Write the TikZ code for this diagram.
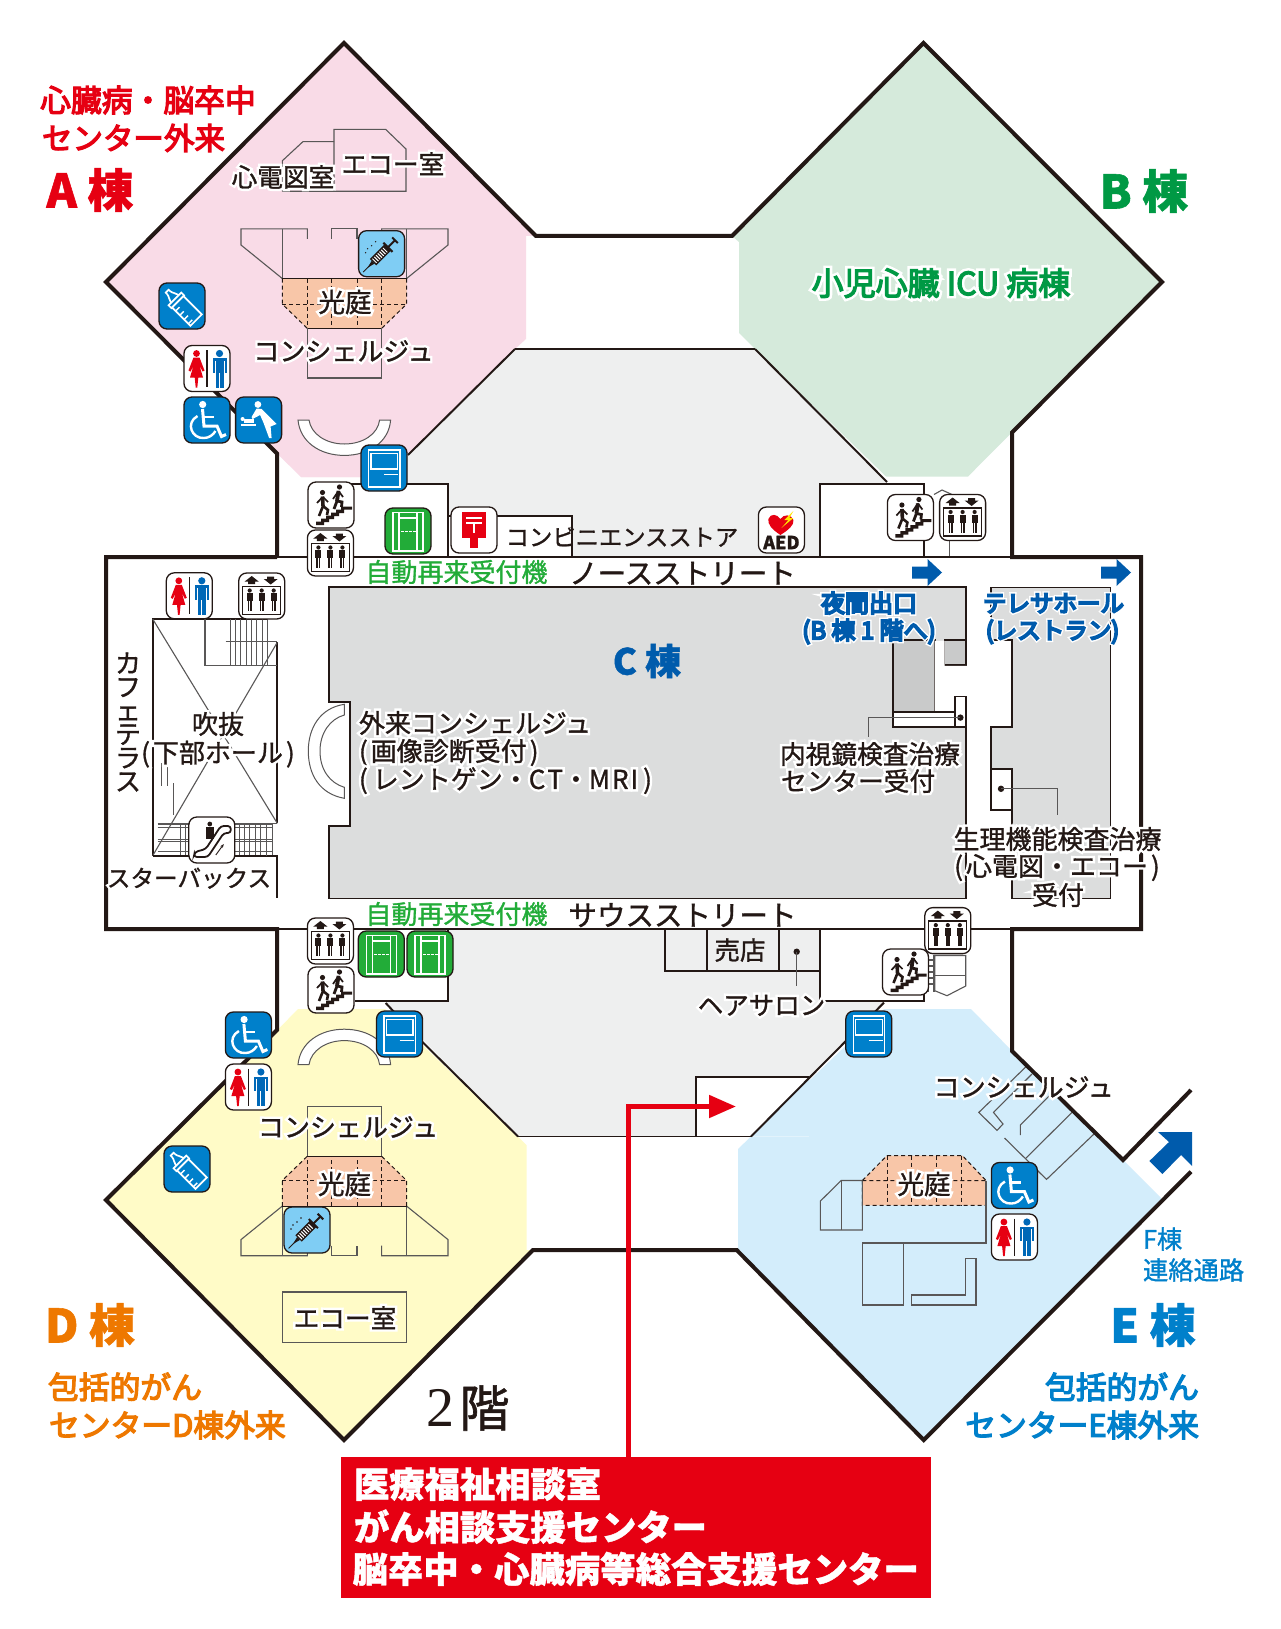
\documentclass[tikz,border=0pt]{standalone}
\usepackage{fontspec}
\usetikzlibrary{arrows.meta}
\setmainfont[FakeBold=1.2]{Noto Sans CJK JP}
\newfontfamily\halofont[FakeBold=20]{Noto Sans CJK JP}
\newfontfamily\medfont[FakeBold=4]{Noto Sans CJK JP}
\newfontfamily\strongfont[FakeBold=8]{Noto Sans CJK JP}
\newfontfamily\serifdigit{Liberation Serif}
\definecolor{ink}{HTML}{231815}
\definecolor{thinc}{HTML}{595757}
\definecolor{wpink}{HTML}{F9DBE7}
\definecolor{wgreen}{HTML}{D5EADB}
\definecolor{wyellow}{HTML}{FFFBC7}
\definecolor{wblue}{HTML}{D3EDFB}
\definecolor{lgray}{HTML}{EEEFEF}
\definecolor{cgray}{HTML}{DCDDDD}
\definecolor{dgray}{HTML}{C9CACA}
\definecolor{peach}{HTML}{F8C6A8}
\definecolor{cred}{HTML}{E60012}
\definecolor{cgreen}{HTML}{009944}
\definecolor{mgreen}{HTML}{22AC38}
\definecolor{corange}{HTML}{EE7800}
\definecolor{cblue}{HTML}{0080CB}
\definecolor{dblue}{HTML}{005BAC}
\definecolor{sky}{HTML}{7FCDF4}
\definecolor{mblue}{HTML}{0068B7}
\tikzset{
  thk/.style={draw=ink,line width=4pt,line join=miter},
  med/.style={draw=ink,line width=2pt},
  fin/.style={draw=thinc,line width=1.1pt},
  dsh/.style={draw=ink,line width=1pt,dashed,dash pattern=on 4pt off 3pt},
  lbl/.style={inner sep=0pt,outer sep=0pt},
  icon/.style={rounded corners=8pt,line width=1.3pt,draw=ink},
  wh/.style={draw=white,line width=1.3pt},
}
\newcommand\hlo[1]{\leavevmode\rlap{\color{white}\halofont #1}#1}
\newcommand\lbl[6][center]{\node[lbl,anchor=#1,text=#5] (#2) at (#3) {\fontsize{#4}{#4}\selectfont\rule[-0.12em]{0pt}{1em}#6};}
\newcommand\elvp[1]{\fill[ink] (#1,-5.5) circle[radius=2.1];\fill[ink] (#1-3,-2.8) rectangle (#1+3,5);\fill[ink] (#1-2,5) rectangle (#1-.3,15);\fill[ink] (#1+.3,5) rectangle (#1+2,15);}
\newcommand\icoToilet[1]{\begin{scope}[shift={#1}]
  \path[icon,fill=white] (-23,-23) rectangle (23,23);
  \fill[cred] (-10.5,-15) circle[radius=3.4];
  \fill[cred] (-13.5,-11) -- (-7.5,-11) -- (-2.5,2) -- (-4.5,3) -- (-7.5,-3) -- (-4,9) -- (-8.7,9) -- (-9.7,19) -- (-11.3,19) -- (-12.3,9) -- (-17,9) -- (-13.5,-3) -- (-16.5,3) -- (-18.5,2) -- cycle;
  \draw[ink,line width=1.4pt] (0,-18.5) -- (0,18.5);
  \fill[mblue] (12.5,-15) circle[radius=3.6];
  \fill[mblue] (5.5,-10.5) rectangle (19.5,-8);
  \fill[mblue] (5.5,-8) rectangle (7.5,4);
  \fill[mblue] (17.5,-8) rectangle (19.5,4);
  \fill[mblue] (8.5,-8) rectangle (16.5,4);
  \fill[mblue] (8.5,4) rectangle (12,19);
  \fill[mblue] (13,4) rectangle (16.5,19);
\end{scope}}
\newcommand\icoWheel[1]{\begin{scope}[shift={#1}]
  \path[icon,fill=cblue] (-23,-23) rectangle (23,23);
  \fill[white] (-4.3,-15.5) circle[radius=3.6];
  \draw[white,line width=3pt] (-4.5,-11) -- (-3,6) -- (10,6) -- (14.5,16.5) -- (19,14.5);
  \draw[white,line width=2.4pt] (-3.5,-3) -- (7,-3);
  \draw[white,line width=2.4pt] (-9.5,-4) .. controls (-22,3) and (-15,19) .. (-3,18) .. controls (2,18) and (6,15) .. (8.5,11);
\end{scope}}
\newcommand\icoBaby[1]{\begin{scope}[shift={#1}]
  \path[icon,fill=cblue] (-23,-23) rectangle (23,23);
  \fill[white] (-0.7,-15.5) circle[radius=3.4];
  \fill[white] (-2,-11.5) -- (3,-11) -- (18,4) -- (12,6.5) -- (13,18) -- (10.5,18) -- (5,3) -- (1.5,-5) -- (-6,-1) -- (-7,-3) -- cycle;
  \fill[white] (-18,3.5) rectangle (-3,5.5);
  \fill[white] (-15,-1) rectangle (-5,2.5);
  \fill[white] (-16,-1) circle[radius=2];
\end{scope}}
\newcommand\icoElev[1]{\begin{scope}[shift={#1}]
  \path[icon,fill=white] (-23,-23) rectangle (23,23);
  \fill[ink] (-10,-20) -- (-3,-14.5) -- (-6.5,-14.5) -- (-6.5,-12) -- (-13.5,-12) -- (-13.5,-14.5) -- (-17,-14.5) -- cycle;
  \fill[ink] (9,-11.5) -- (2,-17) -- (5.5,-17) -- (5.5,-19.5) -- (12.5,-19.5) -- (12.5,-17) -- (16,-17) -- cycle;
  \draw[ink,line width=1.3pt] (-19,-9.5) rectangle (19,18.5);
  \elvp{-12}\elvp{0}\elvp{12}
\end{scope}}
\newcommand\icoStairs[1]{\begin{scope}[shift={#1}]
  \path[icon,fill=white] (-23,-23) rectangle (23,23);
  \fill[ink] (-15,20) -- (-15,16.5) -- (-10,16.5) -- (-10,13.5) -- (-5,13.5) -- (-5,10.5) -- (0,10.5) -- (0,7.5) -- (5,7.5) -- (5,4.5) -- (10,4.5) -- (10,1.5) -- (21,1.5) -- (21,4.5) -- (13,4.5) -- (13,8) -- (8,8) -- (8,11) -- (3,11) -- (3,14) -- (-2,14) -- (-2,17) -- (-7,17) -- (-7,20) -- cycle;
  \fill[ink] (-8.5,-12.5) circle[radius=2.6];
  \draw[ink,line width=3.6pt] (-8.5,-8.5) -- (-8,1);
  \draw[ink,line width=2.6pt] (-8,1) -- (-12,11) (-8,1) -- (-3,5) -- (-4,10);
  \draw[ink,line width=1.7pt] (-8.5,-8) -- (-14,-2) (-8,-8) -- (-3,-3);
  \fill[ink] (8.5,-18) circle[radius=2.6];
  \draw[ink,line width=3.8pt] (7.5,-14) -- (6,-4);
  \draw[ink,line width=2.8pt] (6,-4) -- (11,-3) -- (10.5,2) (6,-4) -- (3,4);
  \draw[ink,line width=1.7pt] (7.5,-14) -- (2,-6) (7.5,-14) -- (12,-8);
\end{scope}}
\newcommand\icoMonitor[1]{\begin{scope}[shift={#1}]
  \path[icon,fill=cblue] (-23,-23) rectangle (23,23);
  \draw[wh] (-15.5,-18) rectangle (16,19);
  \draw[wh] (-13,-14.5) rectangle (13.5,1);
  \draw[white,line width=1.6pt] (0,6.5) -- (14,6.5);
\end{scope}}
\newcommand\icoGreen[1]{\begin{scope}[shift={#1}]
  \path[icon,fill=mgreen] (-23,-23) rectangle (23,23);
  \draw[wh] (-15,-18.5) rectangle (15,20);
  \draw[wh] (-9,-18.5) -- (-9,20) (9,-18.5) -- (9,20) (-9,-13) -- (9,-13);
  \draw[white,line width=1pt,dash pattern=on 2.5pt off 1.5pt] (-7,0) -- (8,0);
\end{scope}}
\newcommand\icoPost[1]{\begin{scope}[shift={#1}]
  \path[icon,fill=white] (-23,-23) rectangle (23,23);
  \fill[cred] (-12,-18) rectangle (12,8);
  \fill[cred] (-4,8) rectangle (4,18);
  \draw[white,line width=2pt] (-8,-12.5) -- (8,-12.5) (-8,-7.5) -- (8,-7.5) (0,-7.5) -- (0,3);
\end{scope}}
\newcommand\icoAED[2]{\begin{scope}[shift={#2}]
  \path[icon,fill=white] (-23,-23) rectangle (23,23);
  \fill[cred] (-1,5) .. controls (-10,-1) and (-14,-6) .. (-13,-11) .. controls (-11,-17) and (-4,-16) .. (-1,-11) .. controls (2,-16) and (10,-16) .. (12,-10) .. controls (13,-5) and (7,0) .. (-1,5) -- cycle;
  \fill[yellow!90!orange] (12,-19) -- (3,-10) -- (7,-10) -- (0,-2) -- (12,-12) -- (8,-12) -- cycle;
  \node[lbl,text=ink] (#1) at (0,12.5) {\fontsize{18}{18}\selectfont\bfseries AED};
\end{scope}}
\newcommand\icoSyr[1]{\begin{scope}[shift={#1}]
  \path[icon,fill=sky] (-23,-23) rectangle (23,23);
  \begin{scope}[rotate=45]
    \draw[ink,line width=0.8pt] (-26,0) -- (-14,0);
    \fill[ink] (-20,0) -- (-12,-2) -- (-12,2) -- cycle;
    \fill[ink] (-12,-4.5) rectangle (9,4.5);
    \foreach \q in {-10,-7.5,...,7} {\draw[white,line width=1pt] (\q,-3) -- (\q,3);}
    \draw[ink,line width=2pt] (9,-6.5) -- (9,6.5);
    \draw[ink,line width=2pt] (9,0) -- (19,0);
    \draw[ink,line width=2pt] (19,-4) -- (19,4);
  \end{scope}
  \foreach \a/\b in {-16/-1,-14/-5,-10/-8,-6/-12} {\fill[ink] (\a,\b) circle[radius=0.8];}
\end{scope}}
\newcommand\icoBottle[1]{\begin{scope}[shift={#1}]
  \path[icon,fill=cblue] (-23,-23) rectangle (23,23);
  \begin{scope}[rotate=-45]
    \draw[white,line width=1.7pt] (-6,-8) rectangle (20,8);
    \draw[white,line width=1.7pt] (-10,-9) rectangle (-6,9);
    \draw[white,line width=1.7pt] (-10,-5.5) .. controls (-14,-5.5) and (-14,-2) .. (-21,-2) -- (-21,2) .. controls (-14,2) and (-14,5.5) .. (-10,5.5);
    \foreach \q in {-1,5,11,17} {\draw[white,line width=1.4pt] (\q,8) -- (\q,2.5);}
  \end{scope}
\end{scope}}
\newcommand\icoEsc[1]{\begin{scope}[shift={#1}]
  \path[icon,fill=white] (-23,-23) rectangle (23,23);
  \draw[ink,line width=1.8pt,rounded corners=3pt] (-17,12) -- (-6,9) -- (9,-14) -- (19,-14) -- (19,-7) -- (12,-7) -- (-4,17) -- (-18,17) -- cycle;
  \fill[ink] (-2,-16) circle[radius=2.4];
  \fill[ink] (-6,-13) rectangle (2,-1);
  \draw[ink,line width=0.9pt,-{Stealth[length=4pt]}] (4,15) -- (12,4);
\end{scope}}
\begin{document}
\begin{tikzpicture}[x=1pt,y=-1pt]
\useasboundingbox (0,0) rectangle (1280,1629);
\fill[white] (0,0) rectangle (1280,1629);
% --- wing fills
\fill[wpink] (344,43) -- (106,282) -- (277,453.5) -- (301,477) -- (361,477) -- (515,349) -- (526,339) -- (526,236) -- (536,236) -- cycle;
\fill[wpink] (301,477) -- (390,477) -- (515,349) -- (400,349) -- cycle;
\fill[wgreen] (923.5,43) -- (732,236) -- (739,242) -- (739,333) -- (755,349) -- (886,476.5) -- (968,476.5) -- (1162,282) -- cycle;
\fill[wyellow] (298,1009) -- (385,1009) -- (518,1136.5) -- (526.5,1145) -- (526.5,1250) -- (533,1250) -- (344,1440) -- (106,1200) -- (277.5,1030) -- cycle;
\fill[wblue] (884,1009) -- (971,1009) -- (1012,1051) -- (1123,1160) -- (1161.6,1198.5) -- (923.7,1440) -- (736.7,1250) -- (738,1250) -- (738,1149) -- (751,1136.5) -- cycle;
% --- light grey halls
\fill[lgray] (515,349) -- (755,349) -- (888,484) -- (820,484) -- (820,557) -- (572,557) -- (572,516) -- (448,516) -- (448,484) -- (379,484) -- cycle;
\fill[lgray] (448,1001) -- (448,930) -- (820,930) -- (820,1001) -- (884,1001) -- (751,1136.5) -- (518,1136.5) -- (385,1001) -- cycle;
\fill[white] (696,1077) rectangle (809,1136.5);
\fill[wblue] (809,1077) -- (751,1136.5) -- (809,1136.5) -- cycle;
% --- hall lines
\draw[med] (408,455) -- (515,349);
\draw[ink,line width=1.2pt] (515,349) -- (755,349);
\draw[med] (755,349) -- (887,482);
\draw[med] (351,484) -- (448,484) -- (448,557);
\draw[med] (449,516) -- (572,516) -- (572,557);
\draw[med] (820,557) -- (820,484) -- (924,484) -- (924,557);
\draw[fin] (949.4,540) -- (949.4,557);
\draw[fin] (934,494.5) -- (942,490) -- (952,494.5);
\draw[med] (277,557) -- (1012,557);
\draw[med] (277,929) -- (1012,929);
\draw[med] (448,930) -- (448,1001) -- (355,1001);
\draw[med] (422,1041.6) -- (518,1136.5);
\draw[ink,line width=1.2pt] (518,1136.5) -- (751,1136.5);
\draw[med] (385.7,1003) -- (396,1014);
\draw[med] (665,930) -- (665,971) -- (820,971);
\draw[med] (706.5,930) -- (706.5,971) (778.8,930) -- (778.8,971);
\draw[med] (820,930) -- (820,1001) -- (923.7,1001) -- (923.7,992);
\draw[med] (884,1002.6) -- (751,1136.5);
\draw[med] (696,1136.5) -- (696,1077) -- (809,1077);
\draw[fin] (934.7,955.5) -- (965.7,955.5) -- (965.7,986) -- (947,995.7) -- (934.7,990.7) -- cycle;
\draw[fin] (934.7,975.4) -- (965.7,975.4);
\draw[fin] (928,955) -- (928,992) (934,955) -- (934,992);
\foreach \q in {960,966,972,978,984} {\draw[fin] (928,\q) -- (934,\q);}
% --- C block
\path[fill=cgray,draw=ink,line width=1.6pt] (328.7,587) -- (965.7,587) -- (965.7,898.5) -- (328.7,898.5) -- (328.7,825.7) -- (350,825.7) -- (350,701.7) -- (328.7,701.7) -- cycle;
\path[fill=dgray,draw=ink,line width=1.6pt] (893,640) rectangle (934.7,712);
\path[fill=dgray,draw=ink,line width=1.6pt] (944.5,640) rectangle (965.7,665);
\fill[white] (934.7,640.8) -- (944.5,640.8) -- (944.5,665.8) -- (967,665.8) -- (967,696.6) -- (955,696.6) -- (955,727) -- (893,727) -- (893,712.8) -- (934.7,712.8) -- cycle;
\draw[ink,line width=1.6pt] (955,712) -- (955,696.6) -- (965.7,696.6) -- (965.7,727) -- (893,727) -- (893,712) -- (955,712);
\draw[ink,line width=1.6pt] (955,712) -- (955,727);
\fill[white] (955.8,697.4) rectangle (964.9,726.2);
\fill[white] (893.8,712.8) rectangle (954.2,726.2);
\draw[ink,line width=1.6pt] (934.7,712) -- (955,712);
\fill[ink] (960.4,717.6) circle[radius=3.2];
\draw[fin] (960.4,717.6) -- (868.6,717.6) -- (868.6,736.8);
% --- right block
\path[fill=cgray,draw=ink,line width=1.6pt] (991,587.5) -- (1110.6,587.5) -- (1110.6,898.5) -- (1012,898.5) -- (1012,810) -- (991,810) -- (991,727) -- (1012,727) -- (1012,640) -- (991,640) -- cycle;
\path[fill=white,draw=ink,line width=1.6pt] (991,769) rectangle (1012,810);
\fill[ink] (1001,788.8) circle[radius=3.2];
\draw[fin] (1001,788.8) -- (1057.5,788.8) -- (1057.5,815);
% --- street arrows
\foreach \q/\nm in {912/a,1101/b} {\fill[dblue] (\q,566.5) -- (\q+15.5,566.5) -- (\q+15.5,559) -- (\q+30,572.5) -- (\q+15.5,586) -- (\q+15.5,578.7) -- (\q,578.7) -- cycle;}
\fill[dblue] (1192,1132) -- (1192,1166) -- (1181,1155) -- (1162.4,1174) -- (1149.4,1161) -- (1169,1142) -- (1158,1132) -- cycle;
% --- shop dot
\fill[ink] (796.7,951.7) circle[radius=3.2];
\draw[fin] (796.7,951.7) -- (796.7,986);
% --- atrium
\draw[med,line width=1.7pt] (277.3,642.3) -- (277.3,823.3) (152.7,855.7) -- (152.7,619) -- (266.7,619);
\draw[fin] (152.7,619) -- (277.3,823.3) (277.3,642.3) -- (152.7,855.7);
\draw[fin] (205,619) -- (205,665.3) -- (277.3,665.3);
\draw[fin] (225.7,641.7) -- (277.3,641.7);
\foreach \q in {230,235.3,240.7,246,251.3,256.7,262,267.3} {\draw[thinc,line width=.7pt] (\q,619) -- (\q,665);}
\draw[fin] (161.7,763) -- (161.7,786) (167.3,763) -- (167.3,786) (173.3,783) -- (173.3,815);
\draw[med,line width=1.7pt] (152.7,855.7) -- (277.3,855.7) -- (277.3,898.3);
\draw[fin] (157.7,824) -- (272,824) (157.7,827.3) -- (272,827.3) (157.7,839.3) -- (272,839.3) (157.7,841.7) -- (272,841.7) (157.7,851.7) -- (272,851.7);
\foreach \q in {180,185,190,239,244.4,249.8,255.2,260.6,266,272} {\draw[thinc,line width=.7pt] (\q,824) -- (\q,855);}
\draw[fin] (266.7,823.3) -- (277.3,823.3) (266.7,823.3) -- (266.7,855.7);
% crescent in C
\path[fill=white,draw=thinc,line width=1pt] (344.3,704.3) .. controls (320,708) and (308.3,728) .. (308.3,751) .. controls (308.3,775) and (320,794) .. (344.3,798.3) -- (344.3,787.3) .. controls (330,783) and (320,770) .. (320,751) .. controls (320,733) and (330,719) .. (344.3,715) -- cycle;
% --- inner structure wing A and mirror D
\begin{scope}
 \draw[fin] (282.4,191.3) -- (282.4,160.7) -- (303,141.6) -- (334,141.6);
 \draw[fin] (334,191.3) -- (334,129.4) -- (385.7,129.4) -- (406,149) -- (406,191.3) -- (282.4,191.3);
\end{scope}
\foreach \yo/\ys in {0/1,1484.6/-1} {
\begin{scope}[yshift=-\yo pt,yscale=\ys]
 \draw[fin] (282.4,278.6) -- (241,245) -- (241,228.9) -- (307.3,228.9) -- (307.3,239);
 \draw[fin] (282.4,228.9) -- (282.4,278.6);
 \draw[fin] (331.8,239) -- (331.8,228.9) -- (357,228.9) -- (357,239);
 \draw[fin] (381.6,239) -- (381.6,228.9) -- (448,228.9) -- (448,245) -- (406.5,278.6);
 \draw[fin] (406.5,228.9) -- (406.5,278.6);
 \fill[peach] (282.4,278.6) -- (406.5,278.6) -- (406.5,304.2) -- (381.6,328.4) -- (307.3,328.4) -- (282.4,304.2) -- cycle;
 \draw[ink,line width=.9pt] (282.4,278.6) -- (406.5,278.6) (307.3,328.4) -- (381.6,328.4);
 \draw[dsh] (282.4,278.6) -- (282.4,304.2) -- (307.3,328.4) (406.5,278.6) -- (406.5,304.2) -- (381.6,328.4);
 \draw[dsh] (282.4,304.2) -- (406.5,304.2);
 \draw[dsh] (307.3,278.6) -- (307.3,328.4) (331.8,278.6) -- (331.8,328.4) (357,278.6) -- (357,328.4) (381.6,278.6) -- (381.6,328.4);
 \draw[fin] (307.3,328.4) -- (307.3,378) -- (381.6,378) -- (381.6,328.4);
 \path[fill=white,draw=thinc,line width=1pt] (298,420) .. controls (300,442) and (320,455.4) .. (344.3,455.4) .. controls (369,455.4) and (389,442) .. (390.6,420) -- (379.6,420) .. controls (378,434) and (363,444) .. (344.3,444) .. controls (326,444) and (311,434) .. (309,420) -- cycle;
\end{scope}}
\draw[fin] (282.4,1292) rectangle (406.5,1342.4);
% --- inner structure wing E
\fill[peach] (887,1155.6) -- (962.4,1155.6) -- (986,1180.5) -- (986,1205.4) -- (862.4,1205.4) -- (862.4,1180.5) -- cycle;
\draw[dsh] (862.4,1180.5) -- (887,1155.6) -- (962.4,1155.6) -- (986,1180.5) (862.4,1180.5) -- (862.4,1205.4) -- (986,1205.4) (862.4,1180.5) -- (986,1180.5);
\draw[dsh] (887,1155.6) -- (887,1205.4) (911.8,1155.6) -- (911.8,1205.4) (936.7,1155.6) -- (936.7,1205.4) (961.6,1155.6) -- (961.6,1205.4);
\draw[fin] (862.4,1180.5) -- (841.2,1180.5) -- (820.4,1201) -- (820.4,1230) -- (862.4,1230) -- (862.4,1180.5);
\draw[fin] (841.2,1180.5) -- (841.2,1230);
\draw[fin] (986,1180.5) -- (986,1243) -- (862.4,1243);
\draw[fin] (862.4,1243) rectangle (903.3,1305);
\draw[fin] (911.4,1295) -- (965.7,1295) -- (965.7,1258.6) -- (976,1258.6) -- (976,1305) -- (911.4,1305) -- cycle;
\draw[fin] (1025.7,1067) -- (978.8,1112.4) -- (997,1130.4) -- (1003,1124) -- (993.5,1112.4) -- (1032,1074);
\draw[fin] (1020.4,1135) -- (1020.4,1125) -- (1052,1093);
\draw[fin] (1004.5,1138) -- (1046.5,1179.4) -- (1094,1134);
\draw[fin] (1025.7,1158.3) -- (1072,1112.4);
% --- thick outline
\draw[thk] (277,557) -- (106,557) -- (106,929) -- (277,929) -- (277,1030) -- (106,1200) -- (344,1440) -- (533,1250) -- (736.7,1250) -- (923.7,1440) -- (1191,1171.7);
\draw[thk] (277,557) -- (277,453.5) -- (106,282) -- (344,43) -- (536,236) -- (732,236) -- (923.5,43) -- (1162,282) -- (1012,432.5) -- (1012,557) -- (1141,557) -- (1141,929) -- (1012,929) -- (1012,1051) -- (1123,1160) -- (1191,1090);
% --- red box and pointer
\node[fill=cred,minimum width=589.6pt,minimum height=141pt,inner sep=0pt,outer sep=0pt] (redbox) at (635.8,1527.5) {};
\coordinate (redtop) at (628,1457);
\coordinate (redturn) at (628,1106.5);
\coordinate (redend) at (736,1106.5);
\draw[cred,line width=5pt,-{Triangle[length=27pt,width=22pt]}] (redtop) -- (redturn) -- (redend);
\lbl[west]{rb1}{354,1484}{35.3}{white}{\bfseries 医療福祉相談室}
\lbl[west]{rb2}{354,1527}{35.3}{white}{\bfseries がん相談支援センター}
\lbl[west]{rb3}{352.5,1569}{35.4}{white}{\bfseries 脳卒中・心臓病等総合支援センター}
% --- labels
\lbl{at1}{148,100}{30.8}{cred}{\medfont 心臓病・脳卒中}
\lbl[west]{at2}{42,138}{30.5}{cred}{\medfont センター外来}
\lbl{at3}{90,190}{46}{cred}{\bfseries A 棟}
\lbl{ecg}{283,177}{25.7}{ink}{\hlo{心電図室}}
\lbl{echoa}{393,164}{25.7}{ink}{\hlo{エコー室}}
\lbl{koa}{345,302}{26.5}{ink}{\hlo{光庭}}
\lbl{cona}{343.5,351}{26}{ink}{\hlo{コンシェルジュ}}
\lbl{icu}{941,283}{32}{cgreen}{\medfont\hlo{小児心臓 ICU 病棟}}
\lbl{bt}{1144,191}{46}{cgreen}{\bfseries B 棟}
\lbl{jd1}{456.5,572}{26}{mgreen}{自動再来受付機}
\lbl{north}{682.5,573}{28.5}{ink}{ノースストリート}
\lbl{conv}{622,537}{23.3}{ink}{コンビニエンスストア}
\lbl{jd2}{456.5,914}{26}{mgreen}{自動再来受付機}
\lbl{south}{682.5,915}{28.5}{ink}{サウスストリート}
\lbl{night1}{869,603}{24}{dblue}{\strongfont\hlo{夜間出口}}
\lbl{night2}{869,631}{24}{dblue}{\strongfont\hlo{(B 棟 1 階へ)}}
\lbl{tele1}{1053.5,603}{23.5}{dblue}{\strongfont\hlo{テレサホール}}
\lbl{tele2}{1052.5,631}{23.5}{dblue}{\strongfont\hlo{(レストラン)}}
\lbl{ct}{647,661}{36}{dblue}{\bfseries C 棟}
\lbl[west]{ext1}{359,723}{26}{ink}{\hlo{外来コンシェルジュ}}
\lbl[west]{ext2}{359,752}{26}{ink}{\hlo{(\kern3pt 画像診断受付\kern3pt )}}
\lbl[west]{ext3}{359,780}{26}{ink}{\hlo{(\kern5pt レントゲン・C\kern2pt T・M\kern2pt R\kern2pt I\kern5pt )}}
\lbl[west]{endo1}{780,754}{25.7}{ink}{\hlo{内視鏡検査治療}}
\lbl[west]{endo2}{781,781}{25.7}{ink}{\hlo{センター受付}}
\lbl{phy1}{1057.5,839}{26}{ink}{\hlo{生理機能検査治療}}
\lbl{phy2}{1057,867}{26}{ink}{\hlo{(\kern3pt 心電図・エコー\kern3pt )}}
\lbl{phy3}{1058,895}{26}{ink}{\hlo{受付}}
\lbl{shop}{740,950}{25.5}{ink}{売店}
\lbl{hair}{761.5,1005}{25.5}{ink}{\hlo{ヘアサロン}}
\node[lbl,align=center,text=ink,font=\fontsize{26}{23.6}\selectfont] (cafe) at (128,722) {カ\\フ\\ェ\\テ\\ラ\\ス};
\lbl{fuki1}{218,724}{26}{ink}{\hlo{吹抜}}
\lbl{fuki2}{218,753.5}{26}{ink}{\hlo{(\kern3pt 下部ホール\kern3pt )}}
\lbl{star}{189,878}{23.6}{ink}{\hlo{スターバックス}}
\lbl{cond}{348,1127}{26}{ink}{\hlo{コンシェルジュ}}
\lbl{kod}{344.5,1184}{26.5}{ink}{\hlo{光庭}}
\lbl{echod}{345,1318}{25.7}{ink}{\hlo{エコー室}}
\lbl{dt}{90,1325}{46}{corange}{\bfseries D 棟}
\lbl[west]{dt1}{48,1387}{30.8}{corange}{\medfont 包括的がん}
\lbl[west]{dt2}{49,1425}{30.8}{corange}{\medfont センターD棟外来}
\node[lbl,text=ink] (floor) at (468,1408) {\fontsize{50}{50}\selectfont{\fontsize{56}{56}\selectfont\serifdigit 2}\kern5pt 階};
\lbl{cone}{1023.7,1087}{26}{ink}{\hlo{コンシェルジュ}}
\lbl{koe}{924,1184}{26.5}{ink}{\hlo{光庭}}
\lbl[west]{ft1}{1143,1239}{25.3}{cblue}{F棟}
\lbl[west]{ft2}{1143,1270}{25.3}{cblue}{連絡通路}
\lbl{et}{1153,1325}{46}{cblue}{\bfseries E 棟}
\lbl[east]{et1}{1199,1387}{30.8}{cblue}{\medfont 包括的がん}
\lbl[east]{et2}{1199,1425}{30.8}{cblue}{\medfont センターE棟外来}
% --- icons
\icoSyr{(381.6,253.7)}
\icoBottle{(182,306)}
\icoToilet{(207,368.5)}
\icoWheel{(207,420)}
\icoBaby{(258.6,420)}
\icoMonitor{(384,468)}
\icoStairs{(331,505)}
\icoElev{(330.4,553)}
\icoGreen{(408,531)}
\icoPost{(474,530)}
\icoToilet{(189.3,595.8)}
\icoElev{(261.7,596)}
\icoEsc{(211.8,840)}
\icoAED{aedtxt}{(781.4,530)}
\icoStairs{(910.4,517.5)}
\icoElev{(962.6,517.5)}
\icoElev{(330.4,941)}
\icoStairs{(331,990)}
\icoGreen{(381.3,954)}
\icoGreen{(430,954)}
\icoWheel{(248.4,1035)}
\icoToilet{(248.4,1087)}
\icoMonitor{(399.5,1034)}
\icoBottle{(187,1169)}
\icoSyr{(307,1230)}
\icoElev{(947.8,930.6)}
\icoStairs{(905.5,972)}
\icoMonitor{(868.8,1034)}
\icoWheel{(1014.4,1185.5)}
\icoToilet{(1014.4,1237)}
\end{tikzpicture}
\end{document}
